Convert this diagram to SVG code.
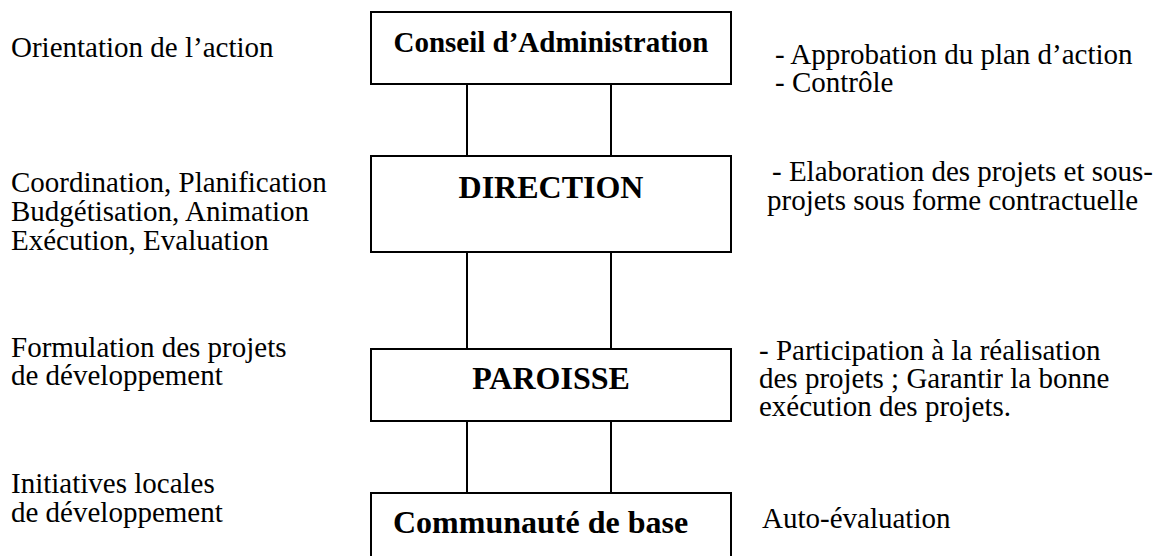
<svg xmlns="http://www.w3.org/2000/svg" width="1158" height="556" viewBox="0 0 1158 556">
  <style>
    .box { fill: #ffffff; stroke: #000000; stroke-width: 2; }
    .conn { stroke: #000000; stroke-width: 2; fill: none; }
    .title { font-family: "Liberation Serif", "Times New Roman", serif; font-weight: bold; font-size: 32px; fill: #000000; }
    .lbl { font-family: "Liberation Serif", "Times New Roman", serif; font-size: 29px; fill: #000000; }
  </style>
  <rect x="0" y="0" width="1158" height="556" fill="#ffffff"/>
  <g id="connectors">
    <line class="conn" x1="467" y1="84" x2="467" y2="156"/>
    <line class="conn" x1="611" y1="84" x2="611" y2="156"/>
    <line class="conn" x1="467" y1="252" x2="467" y2="349"/>
    <line class="conn" x1="611" y1="252" x2="611" y2="349"/>
    <line class="conn" x1="467" y1="421" x2="467" y2="493"/>
    <line class="conn" x1="611" y1="421" x2="611" y2="493"/>
  </g>
  <g id="node-conseil">
    <rect class="box" x="371" y="12" width="360" height="72"/>
    <text class="title" x="551" y="52" text-anchor="middle" style="font-size:29px">Conseil d’Administration</text>
  </g>
  <g id="node-direction">
    <rect class="box" x="371" y="156" width="360" height="96"/>
    <text class="title" x="551" y="198" text-anchor="middle">DIRECTION</text>
  </g>
  <g id="node-paroisse">
    <rect class="box" x="371" y="349" width="360" height="72"/>
    <text class="title" x="551" y="389" text-anchor="middle">PAROISSE</text>
  </g>
  <g id="node-communaute">
    <rect class="box" x="371" y="493" width="360" height="80"/>
    <text class="title" x="393" y="533">Communauté de base</text>
  </g>
  <g id="left-labels">
    <text class="lbl" x="11" y="57">Orientation de l’action</text>
    <text class="lbl" x="11" y="192">Coordination, Planification</text>
    <text class="lbl" x="11" y="221">Budgétisation, Animation</text>
    <text class="lbl" x="11" y="250">Exécution, Evaluation</text>
    <text class="lbl" x="11" y="357">Formulation des projets</text>
    <text class="lbl" x="11" y="385">de développement</text>
    <text class="lbl" x="11" y="493">Initiatives locales</text>
    <text class="lbl" x="11" y="522">de développement</text>
  </g>
  <g id="right-labels">
    <text class="lbl" x="775" y="64">- Approbation du plan d’action</text>
    <text class="lbl" x="775" y="92">- Contrôle</text>
    <text class="lbl" x="772" y="181">- Elaboration des projets et sous-</text>
    <text class="lbl" x="767" y="210">projets sous forme contractuelle</text>
    <text class="lbl" x="759" y="360">- Participation à la réalisation</text>
    <text class="lbl" x="759" y="388">des projets ; Garantir la bonne</text>
    <text class="lbl" x="759" y="416">exécution des projets.</text>
    <text class="lbl" x="762" y="528">Auto-évaluation</text>
  </g>
</svg>
